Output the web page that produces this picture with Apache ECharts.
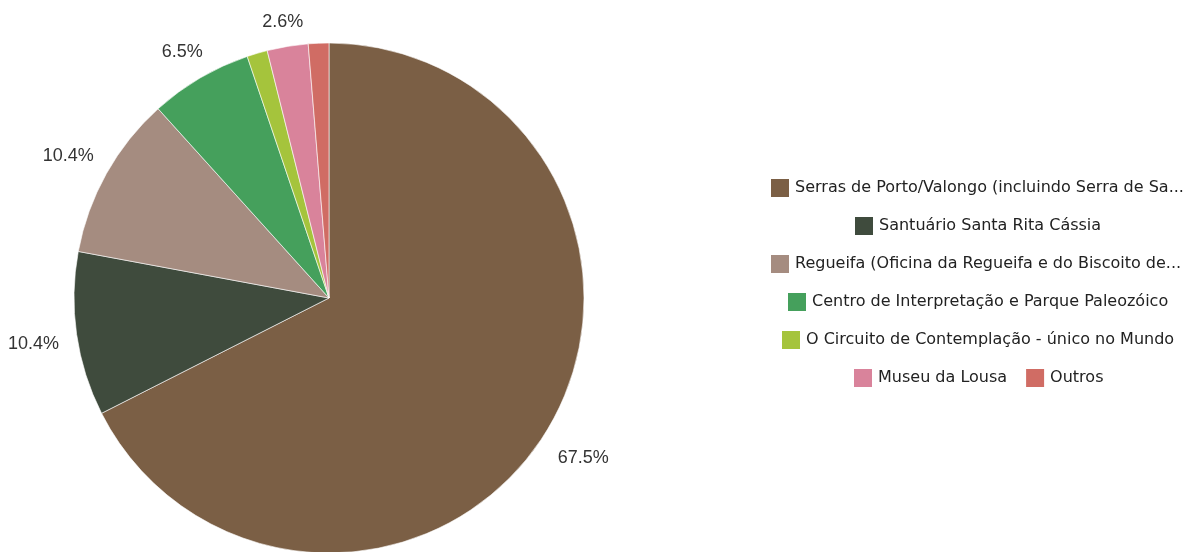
<!DOCTYPE html>
<html>
<head>
<meta charset="utf-8">
<script src="https://cdn.jsdelivr.net/npm/echarts@6/dist/echarts.min.js"></script>
<style>
  html, body { margin: 0; padding: 0; background: #fff; }
  #main { width: 1204px; height: 552px; }
</style>
</head>
<body>
<div id="main"></div>
<script>
'use strict';
// categorias e respostas (77 respostas)
var categories = [
    'Serras de Porto/Valongo (incluindo Serra de Santa Justa e Pias)',
    'Santuário Santa Rita Cássia',
    'Regueifa (Oficina da Regueifa e do Biscoito de Valongo)',
    'Centro de Interpretação e Parque Paleozóico',
    'O Circuito de Contemplação - único no Mundo',
    'Museu da Lousa',
    'Outros'
];
var counts = [52, 8, 8, 5, 1, 2, 1];
var colors = ['#7b5f45', '#3f4b3d', '#a58c80', '#45a05c', '#a5c43c', '#d9839b', '#d06c64'];
// fatias pequenas sem rótulo
var showLabel = [true, true, true, true, false, true, false];
// linhas da legenda (índices das categorias)
var legendRows = [[0], [1], [2], [3], [4], [5, 6]];

var pieCenter = [329, 298];
var pieRadius = 255;
var labelGap = 14;
var labelFontSize = 18;
var labelFont = labelFontSize + 'px "Liberation Sans"';

var legendFontSize = 16;
var legendFont = legendFontSize + 'px "DejaVu Sans"';
var legendMaxText = 392;
var legendCenterX = 977;
var legendTop0 = 177;
var legendStep = 38;
var legendIcon = 20;

var ctx = document.createElement('canvas').getContext('2d');

function textWidth(s, font, max) {
    ctx.font = font;
    var w = ctx.measureText(s).width;
    return max ? Math.min(w, max) : w;
}

var total = 0;
for (var t = 0; t < counts.length; t++) total += counts[t];

var mainData = [];
var labelData = [];
var acc = 0;
for (var i = 0; i < categories.length; i++) {
    mainData.push({ name: categories[i], value: counts[i], itemStyle: { color: colors[i] } });
    // o rótulo fica fora do círculo, afastado pela metade da caixa do texto
    var mid = (acc + counts[i] / 2) / total * Math.PI * 2;
    acc += counts[i];
    var dx = Math.sin(mid), dy = -Math.cos(mid);
    var txt = (counts[i] / total * 100).toFixed(1) + '%';
    var half = Math.abs(dx) * textWidth(txt, labelFont) / 2 + Math.abs(dy) * labelFontSize / 2;
    labelData.push({
        name: categories[i],
        value: counts[i],
        label: { show: showLabel[i], offset: [dx * half, dy * half + 4] }
    });
}

// legendas centradas, uma por linha
var legends = [];
for (var r = 0; r < legendRows.length; r++) {
    var names = [];
    var w = 0;
    for (var k = 0; k < legendRows[r].length; k++) {
        var nm = categories[legendRows[r][k]];
        names.push(nm);
        w += legendIcon + 5 + textWidth(nm, legendFont, legendMaxText);
        if (k > 0) w += 17;
    }
    legends.push({
        data: names,
        orient: 'horizontal',
        left: Math.round(legendCenterX - w / 2),
        top: Math.round(legendTop0 + r * legendStep),
        icon: 'rect',
        itemWidth: legendIcon,
        itemHeight: legendIcon,
        itemGap: 17,
        padding: 0,
        selectedMode: false,
        textStyle: {
            fontFamily: 'DejaVu Sans',
            fontSize: legendFontSize,
            color: '#222',
            width: legendMaxText,
            overflow: 'truncate',
            ellipsis: '...'
        }
    });
}

var chart = echarts.init(document.getElementById('main'), null, { renderer: 'canvas' });
chart.setOption({
    animation: false,
    backgroundColor: '#fff',
    legend: legends,
    series: [
        {
            type: 'pie',
            center: pieCenter,
            radius: [0, pieRadius],
            startAngle: 90,
            clockwise: true,
            silent: true,
            label: { show: false },
            labelLine: { show: false },
            itemStyle: { borderColor: '#fff', borderWidth: 0.6 },
            data: mainData
        },
        {
            // anel invisível só para os rótulos
            type: 'pie',
            center: pieCenter,
            radius: [pieRadius + labelGap - 1, pieRadius + labelGap + 1],
            startAngle: 90,
            clockwise: true,
            silent: true,
            percentPrecision: 1,
            itemStyle: { color: 'rgba(0,0,0,0)' },
            label: {
                show: true,
                position: 'inside',
                rotate: 0,
                formatter: '{d}%',
                fontFamily: 'Liberation Sans',
                fontSize: labelFontSize,
                color: '#333'
            },
            labelLine: { show: false },
            data: labelData
        }
    ]
});
</script>
</body>
</html>
